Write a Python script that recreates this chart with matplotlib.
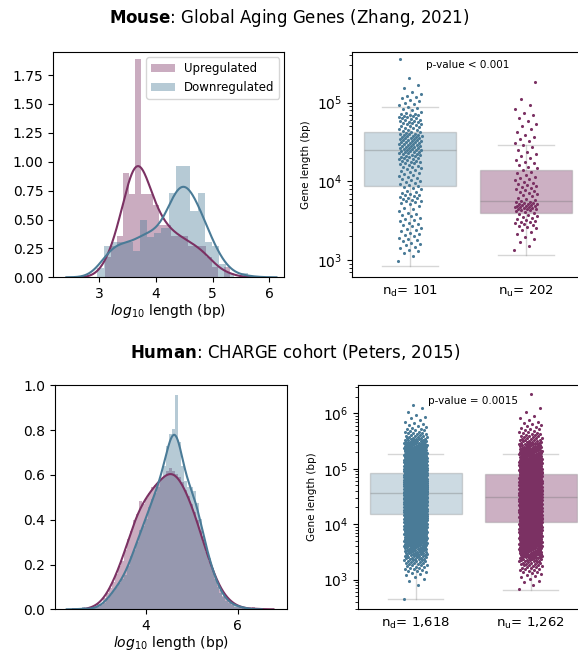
import numpy as np
import matplotlib
matplotlib.use("Agg")
import matplotlib.pyplot as plt
from matplotlib.colors import to_rgba

up_color = "#7b3163"
down_color = "#4a7b97"

# Mouse: log10 gene length, read as counts per histogram bin
mouse_up_start, mouse_up_width = 3.105, 0.105
mouse_up_counts = [2, 3, 4, 10, 8, 21, 8, 8, 7, 5, 5, 4, 4, 4, 3, 3, 3, 2, 1, 0, 1]
mouse_down_start, mouse_down_width = 2.958, 0.127
mouse_down_counts = [2, 7, 8, 8, 8, 6, 13, 9, 10, 11, 19, 25, 25, 15, 19, 8, 7, 3, 1, 0, 1]

# Human: log10 gene length, same bins for both groups
human_start, human_width = 2.61, 0.065
human_down_counts = [1, 0, 0, 0, 1, 1, 2, 3, 5, 7,
                     9, 11, 13, 15, 17, 21, 26, 29, 33, 39,
                     41, 44, 50, 54, 57, 60, 64, 70, 80, 86,
                     88, 105, 82, 70, 63, 60, 60, 58, 52, 44,
                     36, 30, 25, 20, 15, 11, 8, 6, 4, 3,
                     2, 2, 1, 1, 1]
human_up_counts = [0, 0, 0, 1, 1, 2, 2, 4, 6, 8,
                   10, 13, 16, 18, 22, 26, 29, 33, 35, 40,
                   39, 41, 43, 45, 46, 47, 48, 49, 51, 52,
                   51, 50, 49, 47, 44, 42, 39, 36, 33, 29,
                   25, 21, 18, 15, 12, 9, 7, 5, 4, 3,
                   2, 1, 1, 1, 0, 0, 0, 1]

# box stats in bp: whisker low, q1, median, q3, whisker high (down, up)
mouse_box = [[830, 8800, 25000, 42700, 89000], [1160, 4000, 5700, 13900, 28600]]
human_box = [[444, 15300, 36000, 84000, 184000], [645, 11000, 31000, 79000, 184000]]
mouse_labels = [r"n$_\mathrm{d}$= 101", r"n$_\mathrm{u}$= 202"]
human_labels = [r"n$_\mathrm{d}$= 1,618", r"n$_\mathrm{u}$= 1,262"]
mouse_pvalue = "p-value < 0.001"
human_pvalue = "p-value = 0.0015"


def expand(start, width, counts):
    vals = []
    for k, c in enumerate(counts):
        lo = start + k * width
        for j in range(c):
            vals.append(lo + (j + 0.5) / c * width)
    return np.array(vals)


def edges(start, width, counts):
    return start + width * np.arange(len(counts) + 1)


def kde(values):
    bw = values.std(ddof=1) * len(values) ** (-0.2)
    grid = np.linspace(values.min() - 3 * bw, values.max() + 3 * bw, 400)
    dens = np.exp(-0.5 * ((grid[:, None] - values[None, :]) / bw) ** 2).sum(axis=1)
    dens /= len(values) * bw * np.sqrt(2 * np.pi)
    return grid, dens


def draw_hist(ax, up, down, up_edges, down_edges):
    ax.hist(up, bins=up_edges, density=True, color=up_color, alpha=0.4, label="Upregulated")
    ax.hist(down, bins=down_edges, density=True, color=down_color, alpha=0.4, label="Downregulated")
    for v, c in ((up, up_color), (down, down_color)):
        g, d = kde(v)
        ax.plot(g, d, color=c, lw=1.5)
    ax.set_xlabel(r"$log_{10}$ length (bp)", fontsize=10, labelpad=0.5)


def draw_box(ax, stats, samples, labels, ptext, ptext_y):
    bstats = []
    for s, lab in zip(stats, labels):
        bstats.append(dict(whislo=s[0], q1=s[1], med=s[2], q3=s[3], whishi=s[4],
                           label=lab, fliers=[]))
    grey = (0.55, 0.55, 0.55, 0.35)
    bp = ax.bxp(bstats, positions=[0, 1], widths=0.8, capwidths=0.48,
                patch_artist=True, showfliers=False,
                boxprops=dict(edgecolor=grey, linewidth=1),
                whiskerprops=dict(color=grey, linewidth=1),
                capprops=dict(color=grey, linewidth=1),
                medianprops=dict(color=(0.45, 0.45, 0.45, 0.35), linewidth=1))
    for patch, fc in zip(bp["boxes"], [to_rgba(down_color, 0.28), to_rgba(up_color, 0.38)]):
        patch.set_facecolor(fc)
    for pos, vals, c in zip([0, 1], samples, [down_color, up_color]):
        idx = np.arange(len(vals))
        jit = ((idx * 0.6180339887) % 1 - 0.5) * 0.2
        ax.scatter(pos + jit, 10 ** vals, s=5, color=c, linewidths=0, zorder=3)
    ax.set_yscale("log")
    ax.set_xlim(-0.5, 1.5)
    ax.set_ylabel("Gene length (bp)", fontsize=7.5)
    ax.tick_params(axis="x", labelsize=9.5, length=0, pad=5)
    ax.text(0.5, ptext_y, ptext, ha="center", va="center", fontsize=7.5)


mouse_up = expand(mouse_up_start, mouse_up_width, mouse_up_counts)
mouse_down = expand(mouse_down_start, mouse_down_width, mouse_down_counts)
human_up = expand(human_start, human_width, human_up_counts)
human_down = expand(human_start, human_width, human_down_counts)

fig = plt.figure(figsize=(5.78, 6.52), dpi=100)

ax1 = fig.add_axes([0.0917, 0.5747, 0.3997, 0.3448])
draw_hist(ax1, mouse_up, mouse_down,
          edges(mouse_up_start, mouse_up_width, mouse_up_counts),
          edges(mouse_down_start, mouse_down_width, mouse_down_counts))
ax1.set_xlim(2.19, 6.26)
ax1.set_ylim(0, 1.945)
ax1.set_yticks(np.arange(0, 1.76, 0.25))
ax1.set_xticks([3, 4, 5, 6])
ax1.legend(loc="upper right", fontsize=8.5, borderaxespad=0.4)

ax2 = fig.add_axes([0.609, 0.5752, 0.4014, 0.345])
draw_box(ax2, mouse_box, [mouse_down, mouse_up], mouse_labels, mouse_pvalue, 3.0e5)
ax2.set_ylim(10 ** 2.784, 10 ** 5.644)

ax3 = fig.add_axes([0.0952, 0.0655, 0.4014, 0.3445])
draw_hist(ax3, human_up, human_down,
          edges(human_start, human_width, human_up_counts),
          edges(human_start, human_width, human_down_counts))
ax3.set_xlim(2.02, 7.07)
ax3.set_ylim(0, 1.003)
ax3.set_xticks([4, 6])

ax4 = fig.add_axes([0.6194, 0.0659, 0.398, 0.3436])
draw_box(ax4, human_box, [human_down, human_up], human_labels, human_pvalue, 1.7e6)
ax4.set_ylim(10 ** 2.47, 10 ** 6.51)

fig.text(0.5, 1 - 18 / 652, r"$\bf{Mouse}$: Global Aging Genes (Zhang, 2021)",
         ha="center", va="center", fontsize=12)
fig.text(0.51, 1 - 352 / 652, r"$\bf{Human}$: CHARGE cohort (Peters, 2015)",
         ha="center", va="center", fontsize=12)

fig.savefig("out.png", dpi=100)
